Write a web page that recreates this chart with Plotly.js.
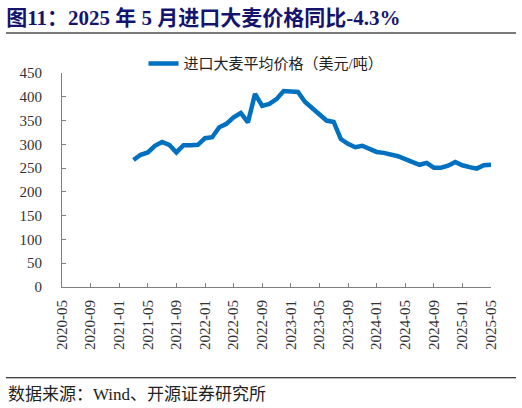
<!DOCTYPE html>
<html>
<head>
<meta charset="utf-8">
<script src="https://cdn.plot.ly/plotly-3.0.1.min.js"></script>
<style>
  html, body { margin: 0; padding: 0; background: #fff; }
  #plot { width: 522px; height: 408px; }
</style>
</head>
<body>
<div id="plot"></div>
<script>
"use strict";

// Monthly categories, 2020-05 .. 2025-05
const months = [
  "2020-05","2020-06","2020-07","2020-08","2020-09","2020-10","2020-11","2020-12",
  "2021-01","2021-02","2021-03","2021-04","2021-05","2021-06","2021-07","2021-08",
  "2021-09","2021-10","2021-11","2021-12","2022-01","2022-02","2022-03","2022-04",
  "2022-05","2022-06","2022-07","2022-08","2022-09","2022-10","2022-11","2022-12",
  "2023-01","2023-02","2023-03","2023-04","2023-05","2023-06","2023-07","2023-08",
  "2023-09","2023-10","2023-11","2023-12","2024-01","2024-02","2024-03","2024-04",
  "2024-05","2024-06","2024-07","2024-08","2024-09","2024-10","2024-11","2024-12",
  "2025-01","2025-02","2025-03","2025-04","2025-05"
];

// Import barley average price (USD/t); no data before 2021-03
const barleyPrice = [
  null, null, null, null, null, null, null, null,
  null, null, 267, 278, 283, 297, 305, 299,
  283, 298, 298, 299, 313, 315, 336, 343,
  357, 366, 346, 406, 381, 385, 395, 412,
  411, 410, 389, 375, 362, 350, 347, 311,
  301, 294, 297, 291, 284, 282, 279, 275,
  269, 264, 257, 261, 251, 251, 255, 263,
  256, 252, 249, 256, 257
];

const xTicks = [
  "2020-05","2020-09","2021-01","2021-05","2021-09","2022-01","2022-05","2022-09",
  "2023-01","2023-05","2023-09","2024-01","2024-05","2024-09","2025-01","2025-05"
];
const yTicks = [0, 50, 100, 150, 200, 250, 300, 350, 400, 450];

const SERIF = "'Liberation Serif', 'Times New Roman', 'Noto Sans CJK SC', serif";
const CJK = "'Liberation Serif', 'Noto Sans CJK SC', serif";
const AXIS_COLOR = "#7f7f7f";

const traces = [{
  type: "scatter", mode: "lines",
  x: months, y: barleyPrice,
  name: "进口大麦平均价格（美元/吨）",
  line: { color: "#0070c0", width: 4.5 },
  connectgaps: false,
  hoverinfo: "x+y",
}];

const layout = {
  width: 522, height: 408,
  margin: { l: 62, r: 31, t: 73, b: 121 },
  paper_bgcolor: "#fff", plot_bgcolor: "#fff",
  title: {
    text: "<b>图11：2025 年 5 月进口大麦价格同比-4.3%</b>",
    font: { family: "'Liberation Serif', 'Noto Sans CJK SC', serif", size: 21, color: "#14146e" },
    x: 0.012, xanchor: "left", y: 0.957, yanchor: "middle",
  },
  xaxis: {
    type: "category",
    range: [0, months.length - 1],
    tickmode: "array", tickvals: xTicks, ticktext: xTicks,
    tickangle: -90,
    ticks: "inside", ticklen: 4, tickcolor: AXIS_COLOR,
    showline: true, linecolor: AXIS_COLOR, linewidth: 1,
    showgrid: false, zeroline: false,
    ticklabelstandoff: 6,
    tickfont: { family: SERIF, size: 15, color: "#333" },
  },
  yaxis: {
    range: [0, 450],
    tickmode: "array", tickvals: yTicks,
    ticks: "inside", ticklen: 4, tickcolor: AXIS_COLOR,
    showline: true, linecolor: AXIS_COLOR, linewidth: 1,
    showgrid: false, zeroline: false,
    ticklabelstandoff: 16,
    tickfont: { family: SERIF, size: 15, color: "#333" },
  },
  showlegend: true,
  legend: {
    orientation: "h",
    x: 0.19, xanchor: "left", y: 1.043, yanchor: "middle",
    font: { family: CJK, size: 15, color: "#222" },
    bgcolor: "rgba(0,0,0,0)",
  },
  shapes: [
    // rule under the heading
    { type: "rect", xref: "paper", yref: "paper",
      x0: -0.1305, x1: 1.0583, y0: 1.182, y1: 1.192,
      fillcolor: "#7a7a7a", line: { width: 0 } },
    // rule above the source note
    { type: "line", xref: "paper", yref: "paper",
      x0: -0.1305, x1: 1.0583, y0: -0.424, y1: -0.424,
      line: { color: "#000", width: 1.2 } },
  ],
  annotations: [
    // heading rule again as a filled annotation box, drawn on the info layer
    { text: " ", xref: "paper", yref: "paper",
      x: -0.1305, xanchor: "left", y: 1.187, yanchor: "middle",
      width: 510, height: 2, borderpad: 0, borderwidth: 0,
      bgcolor: "#7a7a7a", showarrow: false,
      font: { size: 1, color: "#7a7a7a" } },
    { text: "数据来源：Wind、开源证券研究所",
      xref: "paper", yref: "paper",
      x: -0.1305, xanchor: "left", y: -0.503, yanchor: "middle",
      showarrow: false,
      font: { family: CJK, size: 17, color: "#222" } },
  ],
};

Plotly.newPlot("plot", traces, layout, { displayModeBar: false, staticPlot: true });
</script>
</body>
</html>
